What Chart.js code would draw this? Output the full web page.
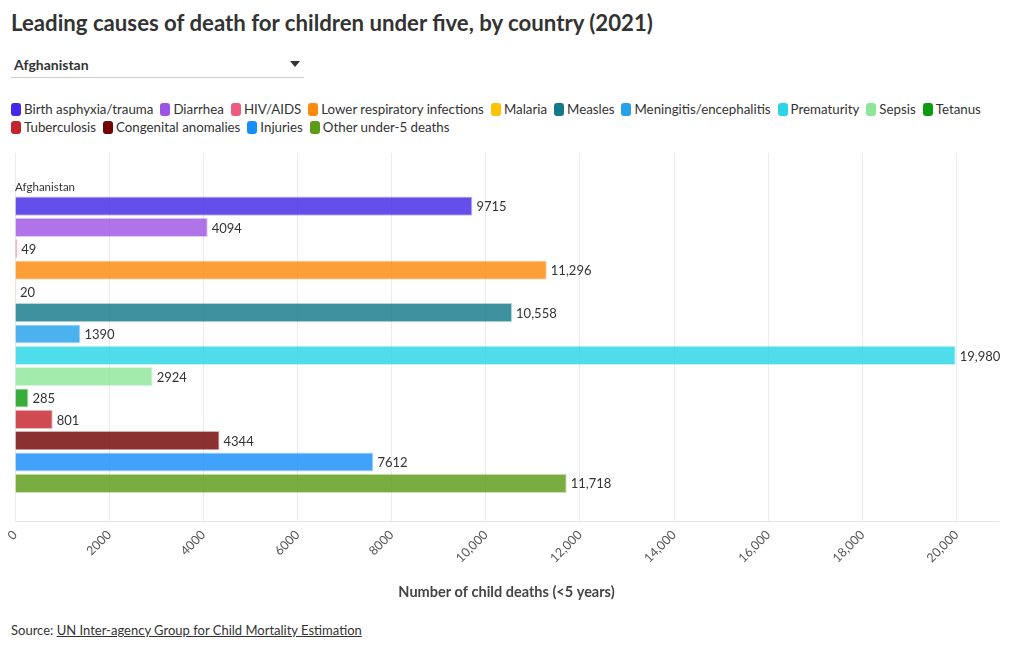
<!DOCTYPE html>
<html>
<head>
<meta charset="utf-8">
<script src="https://cdn.jsdelivr.net/npm/chart.js@4/dist/chart.umd.min.js"></script>
<style>
  html, body { margin: 0; padding: 0; background: #fff; }
  body { width: 1020px; height: 650px; position: relative; overflow: hidden; font-family: Lato, "Noto Sans", sans-serif; color: #333; }
  #title { position: absolute; left: 11px; top: 9px; font-size: 22.2px; font-weight: 700; color: #333; white-space: nowrap; }
  #dropdown { position: absolute; left: 11px; top: 55px; width: 293px; height: 22px; border-bottom: 1px solid #ccc; }
  #dropdown span.lbl { position: absolute; left: 3px; top: 1px; font-size: 14px; font-weight: 700; color: #333; }
  #dropdown span.arr { position: absolute; right: 4px; top: 6px; width: 0; height: 0; border-left: 5px solid transparent; border-right: 5px solid transparent; border-top: 6px solid #333; }
  #legend { position: absolute; left: 11px; top: 101px; width: 1000px; display: flex; flex-wrap: wrap; row-gap: 2px; }
  .li { display: flex; align-items: center; margin-right: 7px; font-size: 13.3px; color: #333; height: 16px; white-space: nowrap; }
  .sw { width: 10px; height: 13px; border-radius: 3px; margin-right: 3px; }
  #wrap { position: absolute; left: 0; top: 140px; width: 1010px; height: 470px; }
  #source { position: absolute; left: 11px; top: 622px; font-size: 13px; color: #333; }
  #source a { color: #333; text-decoration: underline; }
</style>
</head>
<body>
<div id="title">Leading causes of death for children under five, by country (2021)</div>
<div id="dropdown"><span class="lbl">Afghanistan</span><span class="arr"></span></div>
<div id="legend"></div>
<div id="wrap"><canvas id="c"></canvas></div>
<div id="source">Source: <a>UN Inter-agency Group for Child Mortality Estimation</a></div>
<script>
const countries = ['Afghanistan'];
const causes = ['Birth asphyxia/trauma', 'Diarrhea', 'HIV/AIDS', 'Lower respiratory infections', 'Malaria', 'Measles', 'Meningitis/encephalitis', 'Prematurity', 'Sepsis', 'Tetanus', 'Tuberculosis', 'Congenital anomalies', 'Injuries', 'Other under-5 deaths'];
const deaths = [9715, 4094, 49, 11296, 20, 10558, 1390, 19980, 2924, 285, 801, 4344, 7612, 11718];
const colors = ['#4328e7', '#9c55e3', '#ef5a82', '#fd8a0c', '#fbc300', '#137a8a', '#25a0ec', '#2ad6e6', '#8ee69b', '#0b9b10', '#c5232b', '#720404', '#168ef9', '#5b9b15'];
const axisTitle = 'Number of child deaths (<5 years)';
const tickStep = 2000;

function fmt(v) { return Math.abs(v) >= 10000 ? v.toLocaleString('en-US') : String(v); }
function hexA(h, a) {
  const r = parseInt(h.slice(1, 3), 16), g = parseInt(h.slice(3, 5), 16), b = parseInt(h.slice(5, 7), 16);
  return `rgba(${r},${g},${b},${a})`;
}
function stepTicks(scale) {
  const t = [];
  for (let v = 0; v <= scale.max; v += tickStep) t.push({ value: v });
  scale.ticks = t;
}

const leg = document.getElementById('legend');
causes.forEach((c, i) => {
  const d = document.createElement('div'); d.className = 'li';
  const s = document.createElement('span'); s.className = 'sw'; s.style.background = colors[i];
  d.appendChild(s); d.appendChild(document.createTextNode(c)); leg.appendChild(d);
});

const valueLabels = {
  id: 'valueLabels',
  afterDatasetsDraw(chart) {
    const ctx = chart.ctx;
    ctx.save();
    ctx.font = '13px Lato, "Noto Sans", sans-serif';
    ctx.fillStyle = '#333';
    ctx.textBaseline = 'middle';
    ctx.textAlign = 'left';
    chart.data.datasets.forEach((ds, i) => {
      const meta = chart.getDatasetMeta(i);
      meta.data.forEach((bar, j) => {
        ctx.fillText(fmt(ds.data[j]), bar.x + 4, bar.y + 1);
      });
    });
    const first = chart.getDatasetMeta(0).data[0];
    ctx.font = '11.5px Lato, "Noto Sans", sans-serif';
    ctx.textBaseline = 'bottom';
    ctx.fillText(countries[0], chart.chartArea.left, first.y - first.height / 2 - 3);
    ctx.restore();
  }
};

const maxVal = Math.max(...deaths) * 1.045;
const gridColor = '#ebebeb';

new Chart(document.getElementById('c'), {
  type: 'bar',
  data: {
    labels: countries,
    datasets: causes.map((c, i) => ({
      label: c,
      data: [deaths[i]],
      backgroundColor: hexA(colors[i], 0.82),
      borderColor: hexA(colors[i], 0.3),
      borderWidth: 1,
      categoryPercentage: 0.845,
      barPercentage: 0.9
    }))
  },
  options: {
    indexAxis: 'y',
    responsive: true,
    maintainAspectRatio: false,
    animation: false,
    layout: { padding: { left: 15, right: 12, top: 13, bottom: 9 } },
    plugins: { legend: { display: false }, tooltip: { enabled: false } },
    scales: {
      y: { display: false, offset: true },
      x: {
        min: 0, max: maxVal,
        afterBuildTicks: stepTicks,
        grid: { color: gridColor, drawTicks: false },
        border: { color: '#e6e6e6' },
        ticks: {
          minRotation: 45, maxRotation: 45, padding: 6,
          color: '#555', font: { family: 'Lato, "Noto Sans", sans-serif', size: 12.5 },
          callback: v => fmt(v)
        },
        title: { display: true, text: axisTitle, color: '#444', padding: { top: 12, bottom: 0 },
          font: { family: 'Lato, "Noto Sans", sans-serif', size: 14.5, weight: 'bold' } }
      },
      x2: {
        position: 'top', min: 0, max: maxVal,
        afterBuildTicks: stepTicks,
        grid: { color: gridColor, drawOnChartArea: false, drawTicks: true, tickLength: 15 },
        border: { display: false },
        ticks: { display: false }
      }
    }
  },
  plugins: [valueLabels]
});
</script>
</body>
</html>
